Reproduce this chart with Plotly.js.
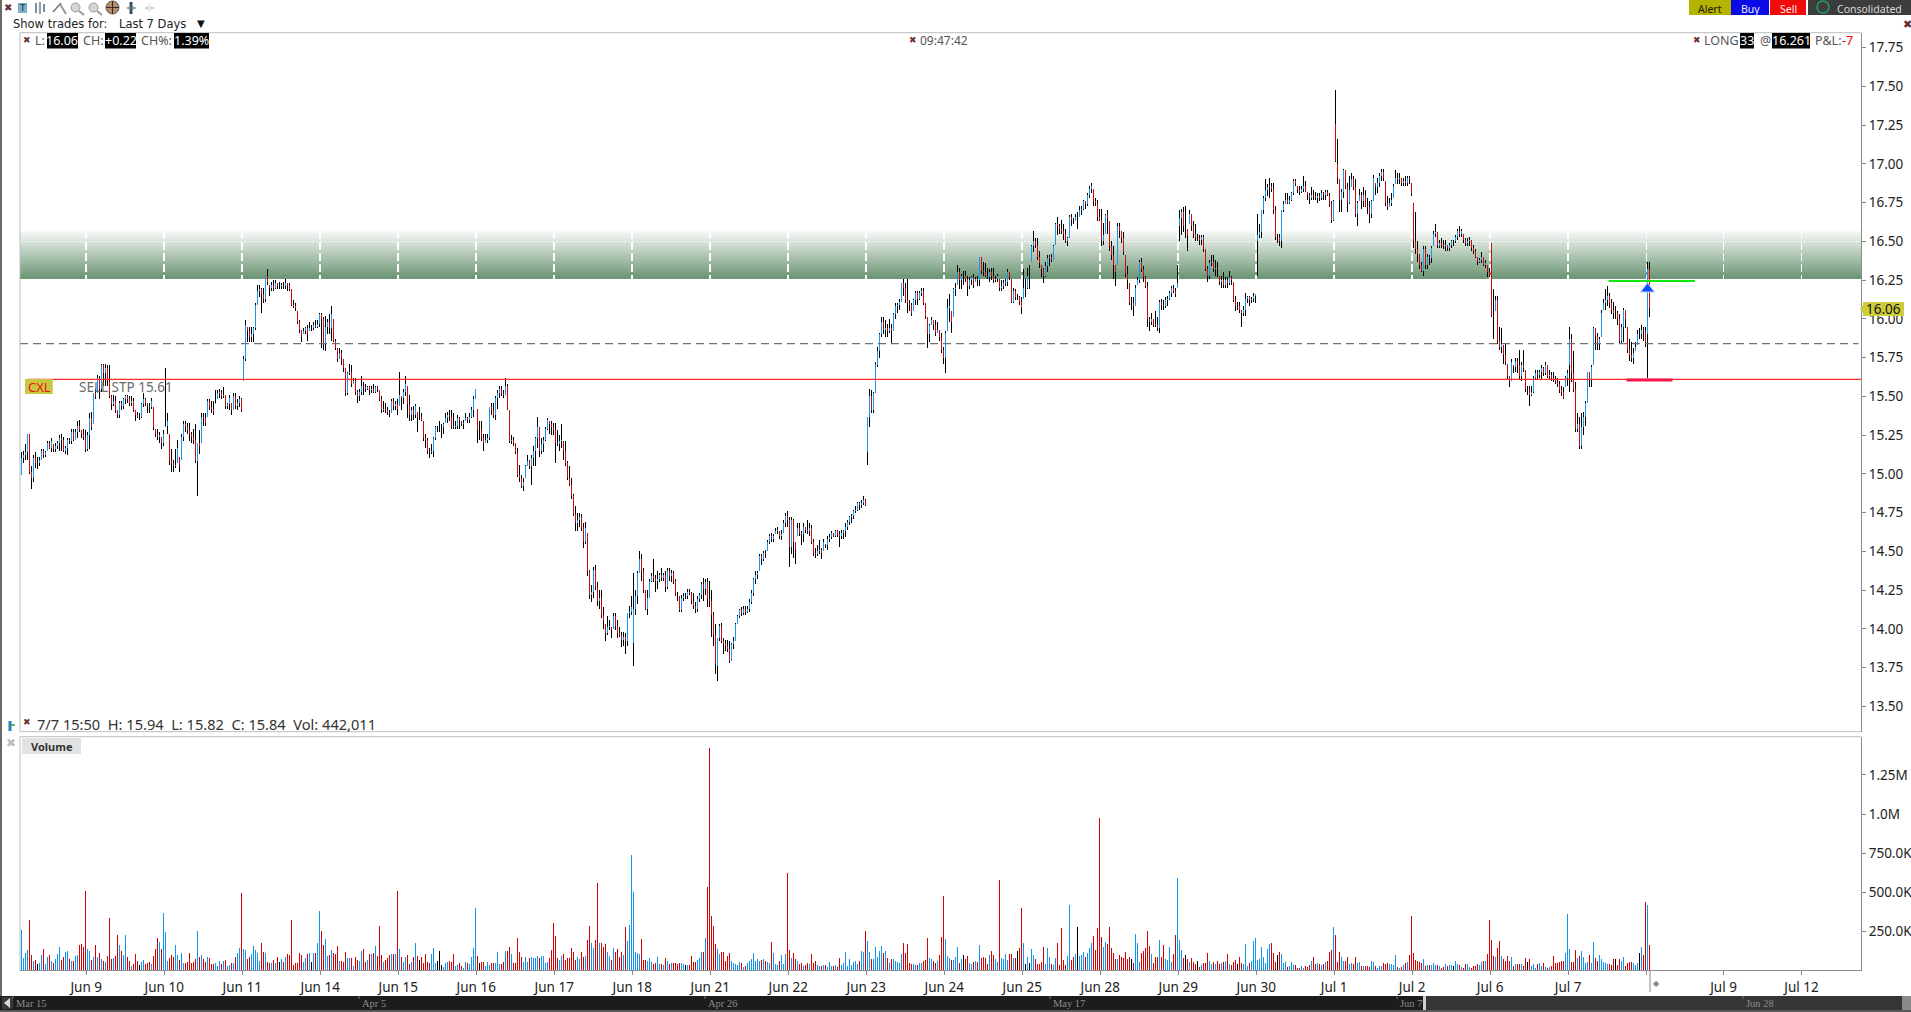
<!DOCTYPE html>
<html><head><meta charset="utf-8"><title>CHART</title>
<script src="https://cdn.plot.ly/plotly-3.0.1.min.js"></script>
<style>html,body{margin:0;padding:0;background:#fff;overflow:hidden}
.scatterlayer .js-line{shape-rendering:crispEdges}.barlayer path{shape-rendering:crispEdges}</style></head>
<body><div id="chart" style="width:1911px;height:1012px"></div>
<script>
// prices in cents, volumes in thousands; rows follow the 39 ten-minute bars of each session
const highs=[1514,1515,1519,1526,1526,1505,1512,1514,1511,1511,1516,1516,1515,1521,1521,1523,1519,1520,1521,1525,1526,1524,1518,1523,1523,1529,1529,1529,1534,1535,1528,1529,1528,
1527,1539,1540,1552,1555,1564,1563,1571,1571,1571,1570,1570,1551,1551,1550,1541,1547,1547,1549,1551,1551,1550,1550,1549,1541,1540,1539,1546,1552,1549,1546,1546,1549,1543,1529,1529,1527,1524,1528,
1568,1539,1526,1516,1509,1516,1522,1511,1526,1534,1534,1533,1533,1527,1529,1532,1520,1528,1539,1539,1539,1548,1548,1547,1547,1554,1554,1555,1554,1556,1551,1546,1551,1546,1552,1552,1548,1550,1549,
1576,1599,1595,1595,1595,1595,1610,1622,1622,1620,1620,1628,1632,1622,1624,1625,1625,1623,1624,1623,1624,1626,1623,1623,1619,1612,1610,1605,1599,1593,1594,1595,1596,1598,1596,1598,1599,1599,1604,
1604,1601,1602,1600,1603,1608,1600,1587,1581,1581,1580,1574,1568,1566,1571,1570,1562,1562,1554,1555,1563,1559,1558,1557,1557,1557,1558,1557,1557,1554,1550,1547,1546,1543,1541,1548,1549,1547,1548,
1566,1550,1555,1563,1557,1551,1543,1544,1545,1540,1543,1539,1534,1526,1523,1517,1519,1524,1531,1531,1534,1532,1533,1539,1540,1541,1541,1539,1534,1538,1537,1534,1535,1539,1537,1539,1543,1550,1555,
1542,1534,1534,1526,1526,1526,1543,1546,1546,1550,1554,1557,1557,1554,1562,1558,1541,1525,1524,1520,1517,1506,1499,1497,1506,1512,1509,1512,1518,1524,1537,1530,1523,1524,1530,1536,1534,1534,1533,
1533,1528,1525,1532,1521,1521,1508,1505,1497,1487,1479,1475,1475,1474,1468,1469,1462,1438,1428,1440,1441,1430,1425,1425,1414,1403,1408,1406,1401,1410,1410,1406,1401,1398,1398,1397,1410,1415,1421,
1436,1425,1437,1450,1448,1439,1425,1425,1432,1436,1445,1435,1437,1436,1439,1436,1437,1439,1439,1438,1437,1432,1424,1421,1422,1423,1423,1426,1426,1424,1423,1417,1421,1423,1430,1433,1432,1433,1431,
1425,1411,1403,1394,1403,1404,1394,1393,1393,1392,1391,1395,1404,1409,1413,1414,1415,1415,1415,1419,1425,1433,1437,1437,1448,1448,1450,1451,1457,1461,1462,1461,1465,1466,1463,1464,1470,1475,1476,
1472,1472,1471,1456,1468,1468,1463,1468,1466,1470,1468,1467,1458,1452,1454,1457,1452,1458,1455,1460,1461,1463,1462,1464,1464,1463,1464,1464,1468,1470,1473,1474,1477,1479,1482,1482,1483,1486,1484,
1537,1555,1554,1553,1572,1582,1591,1601,1601,1599,1597,1600,1597,1604,1610,1610,1613,1623,1626,1623,1626,1612,1610,1613,1618,1618,1618,1620,1620,1610,1601,1597,1601,1599,1599,1598,1593,1591,1582,
1592,1613,1616,1605,1620,1623,1635,1633,1629,1631,1631,1628,1627,1628,1629,1627,1628,1640,1640,1637,1636,1633,1632,1633,1633,1628,1629,1626,1625,1625,1626,1632,1630,1626,1620,1619,1616,1615,1614,
1632,1626,1633,1635,1648,1657,1652,1652,1644,1635,1633,1637,1641,1641,1642,1648,1662,1666,1661,1664,1661,1658,1653,1667,1668,1665,1668,1669,1673,1673,1677,1676,1681,1686,1688,1684,1678,1677,1671,
1671,1662,1668,1670,1663,1650,1647,1635,1662,1662,1657,1656,1641,1634,1623,1614,1614,1622,1627,1638,1639,1634,1628,1624,1601,1604,1600,1605,1601,1612,1613,1612,1614,1615,1618,1621,1622,1620,1635,
1670,1671,1672,1673,1658,1670,1668,1663,1661,1655,1654,1654,1654,1645,1634,1638,1641,1641,1638,1637,1628,1628,1630,1627,1627,1631,1628,1624,1615,1611,1611,1606,1608,1617,1615,1615,1614,1617,1615,
1668,1661,1670,1679,1690,1687,1691,1688,1688,1673,1655,1655,1670,1676,1681,1681,1679,1682,1690,1690,1686,1686,1686,1692,1689,1682,1681,1685,1683,1682,1681,1681,1683,1682,1683,1683,1681,1676,1677,
1748,1716,1690,1684,1697,1696,1688,1692,1694,1692,1690,1676,1684,1682,1685,1683,1678,1676,1677,1693,1688,1691,1694,1697,1697,1689,1679,1678,1681,1687,1696,1694,1694,1691,1691,1692,1692,1692,1688,
1675,1669,1650,1642,1637,1647,1647,1642,1641,1647,1657,1661,1656,1651,1652,1651,1651,1648,1649,1651,1651,1654,1658,1660,1658,1655,1652,1652,1653,1651,1648,1645,1640,1639,1643,1640,1638,1635,1633,
1649,1619,1615,1615,1595,1594,1583,1584,1571,1563,1574,1570,1575,1575,1580,1572,1580,1567,1557,1557,1557,1563,1567,1567,1567,1570,1569,1572,1570,1567,1566,1566,1563,1562,1560,1557,1556,1563,1567,
1595,1590,1579,1559,1539,1537,1539,1540,1547,1566,1566,1570,1595,1594,1591,1588,1606,1613,1619,1621,1617,1613,1611,1608,1605,1603,1597,1607,1606,1595,1587,1585,1581,1585,1593,1594,1596,1595,1595,
1637,1637];
const lows=[1499,1507,1509,1509,1500,1490,1495,1504,1503,1505,1509,1510,1511,1515,1516,1514,1514,1514,1516,1515,1515,1514,1513,1512,1519,1519,1521,1522,1523,1527,1523,1522,1514,
1515,1516,1528,1532,1548,1552,1548,1553,1557,1557,1557,1549,1541,1544,1539,1536,1536,1541,1542,1545,1546,1544,1544,1540,1534,1536,1535,1536,1543,1544,1539,1539,1542,1528,1524,1522,1520,1516,1518,
1530,1526,1506,1501,1501,1504,1507,1501,1509,1521,1527,1526,1521,1520,1519,1507,1486,1513,1520,1531,1531,1537,1541,1539,1538,1545,1548,1549,1548,1549,1542,1542,1541,1538,1541,1542,1541,1543,1540,
1560,1573,1585,1585,1585,1585,1593,1609,1614,1604,1610,1611,1622,1615,1618,1618,1619,1619,1619,1619,1619,1619,1618,1618,1608,1607,1605,1597,1591,1585,1590,1590,1586,1592,1592,1593,1594,1594,1595,
1581,1580,1579,1590,1590,1586,1585,1580,1572,1574,1570,1566,1550,1551,1564,1556,1558,1551,1546,1547,1551,1551,1553,1554,1551,1552,1552,1552,1553,1547,1539,1540,1539,1538,1537,1539,1541,1541,1538,
1544,1541,1545,1550,1536,1534,1534,1535,1536,1527,1535,1534,1521,1517,1513,1510,1513,1511,1522,1527,1527,1523,1526,1533,1533,1534,1529,1529,1529,1529,1529,1531,1529,1534,1533,1533,1536,1537,1548,
1520,1522,1521,1515,1520,1520,1522,1538,1536,1535,1542,1549,1550,1549,1551,1541,1520,1519,1518,1513,1498,1495,1491,1489,1497,1505,1503,1493,1505,1505,1517,1511,1513,1514,1521,1528,1526,1525,1525,
1507,1518,1515,1517,1509,1505,1496,1492,1484,1473,1463,1463,1466,1463,1452,1455,1434,1419,1417,1420,1425,1415,1413,1407,1400,1392,1396,1399,1394,1400,1399,1394,1395,1388,1389,1384,1389,1407,1409,
1376,1409,1416,1436,1431,1423,1412,1409,1420,1430,1430,1424,1426,1430,1431,1431,1424,1426,1431,1430,1429,1421,1418,1411,1411,1418,1419,1419,1422,1416,1413,1410,1411,1417,1419,1418,1422,1414,1414,
1395,1389,1371,1366,1392,1391,1384,1386,1385,1378,1379,1387,1392,1403,1407,1408,1409,1409,1410,1411,1416,1421,1429,1432,1437,1441,1444,1446,1450,1455,1456,1456,1461,1461,1458,1457,1462,1466,1466,
1440,1448,1446,1442,1460,1460,1454,1456,1462,1461,1460,1455,1447,1446,1447,1448,1445,1450,1452,1451,1456,1458,1459,1459,1459,1453,1458,1458,1459,1464,1467,1468,1471,1475,1476,1477,1478,1480,1479,
1506,1530,1539,1539,1552,1569,1575,1588,1590,1588,1588,1591,1584,1592,1600,1604,1606,1611,1615,1610,1604,1605,1602,1605,1609,1609,1612,1615,1609,1600,1581,1585,1596,1593,1589,1591,1586,1578,1571,
1565,1592,1598,1591,1601,1615,1622,1619,1619,1622,1624,1615,1619,1622,1620,1624,1621,1621,1629,1628,1627,1626,1624,1625,1623,1624,1624,1618,1618,1619,1621,1621,1625,1610,1610,1612,1612,1609,1603,
1613,1614,1619,1619,1637,1643,1646,1638,1633,1627,1623,1627,1630,1634,1637,1638,1648,1654,1655,1655,1651,1649,1647,1652,1660,1661,1663,1658,1666,1667,1670,1671,1673,1678,1681,1673,1673,1663,1663,
1647,1648,1655,1655,1644,1638,1626,1621,1635,1652,1649,1641,1627,1619,1609,1606,1602,1608,1622,1623,1630,1624,1620,1595,1592,1596,1595,1595,1592,1591,1606,1606,1607,1608,1612,1614,1617,1614,1620,
1650,1654,1656,1652,1644,1661,1657,1652,1650,1650,1648,1648,1643,1631,1624,1626,1634,1630,1628,1627,1622,1620,1620,1620,1620,1622,1622,1611,1605,1606,1604,1595,1602,1602,1610,1608,1610,1611,1610,
1628,1652,1652,1668,1676,1679,1678,1682,1668,1651,1649,1647,1646,1669,1674,1674,1674,1676,1680,1686,1681,1680,1681,1682,1682,1677,1674,1677,1677,1677,1675,1676,1677,1677,1677,1679,1672,1662,1663,
1701,1687,1669,1669,1678,1684,1669,1674,1685,1683,1666,1660,1676,1671,1672,1672,1668,1662,1665,1676,1680,1681,1685,1689,1689,1673,1670,1672,1673,1678,1687,1687,1687,1686,1686,1686,1686,1687,1679,
1646,1642,1637,1632,1630,1628,1632,1632,1635,1636,1647,1653,1646,1646,1646,1645,1644,1644,1644,1646,1647,1649,1651,1653,1653,1649,1647,1647,1647,1644,1642,1639,1635,1636,1636,1634,1633,1627,1627,
1601,1587,1605,1584,1580,1578,1571,1570,1561,1556,1560,1565,1566,1565,1561,1560,1566,1553,1551,1544,1550,1552,1561,1561,1562,1561,1563,1564,1562,1561,1560,1559,1558,1556,1552,1550,1548,1556,1557,
1553,1559,1553,1527,1527,1516,1516,1525,1531,1546,1556,1556,1570,1580,1580,1580,1588,1606,1606,1608,1607,1603,1600,1600,1596,1584,1584,1585,1594,1578,1573,1572,1571,1579,1583,1587,1587,1586,1582,
1562,1601];
const closes=[1510,1512,1514,1526,1501,1497,1510,1507,1507,1509,1515,1512,1514,1520,1517,1521,1516,1518,1520,1523,1522,1515,1517,1522,1521,1527,1522,1527,1531,1528,1526,1524,1516,
1525,1536,1530,1552,1550,1562,1555,1570,1565,1568,1560,1550,1545,1547,1541,1538,1546,1544,1548,1550,1548,1546,1547,1541,1538,1537,1537,1545,1548,1546,1544,1543,1547,1530,1526,1524,1525,1520,1526,
1531,1534,1508,1507,1505,1506,1517,1505,1524,1532,1530,1528,1526,1524,1522,1508,1520,1518,1537,1536,1533,1547,1543,1542,1540,1546,1552,1553,1550,1551,1544,1545,1549,1541,1550,1544,1546,1548,1541,
1574,1596,1592,1588,1590,1594,1609,1618,1619,1616,1613,1628,1624,1620,1622,1620,1623,1621,1621,1622,1621,1623,1622,1619,1609,1608,1607,1598,1593,1588,1592,1594,1590,1594,1594,1596,1595,1597,1603,
1600,1584,1595,1598,1594,1603,1586,1581,1574,1578,1575,1568,1552,1565,1566,1558,1560,1553,1550,1553,1557,1556,1555,1556,1554,1555,1553,1556,1555,1548,1541,1542,1541,1540,1539,1547,1544,1545,1542,
1551,1549,1553,1558,1545,1538,1541,1538,1544,1537,1537,1535,1523,1522,1515,1514,1515,1523,1530,1530,1530,1530,1532,1536,1538,1537,1531,1530,1531,1536,1535,1532,1533,1536,1535,1537,1541,1548,1555,
1528,1528,1524,1520,1522,1523,1543,1541,1538,1549,1552,1555,1552,1551,1557,1542,1521,1522,1520,1514,1499,1497,1492,1495,1505,1508,1505,1510,1515,1523,1530,1515,1519,1522,1529,1535,1532,1530,1528,
1520,1519,1521,1522,1515,1507,1497,1493,1486,1474,1468,1470,1472,1466,1456,1465,1437,1422,1424,1438,1427,1418,1420,1409,1405,1397,1401,1402,1399,1408,1402,1397,1396,1393,1395,1392,1410,1411,1414,
1413,1421,1436,1445,1437,1425,1413,1420,1431,1434,1433,1431,1432,1435,1433,1435,1427,1437,1434,1436,1431,1422,1421,1412,1420,1421,1421,1424,1423,1418,1415,1413,1419,1422,1429,1426,1430,1419,1418,
1409,1396,1377,1394,1402,1392,1390,1389,1387,1379,1390,1392,1403,1408,1412,1410,1413,1411,1413,1417,1423,1432,1435,1436,1447,1445,1449,1448,1456,1460,1458,1460,1463,1464,1460,1461,1468,1473,1470,
1453,1470,1456,1451,1465,1462,1461,1466,1464,1463,1465,1456,1449,1448,1450,1451,1449,1456,1454,1458,1459,1462,1460,1463,1461,1460,1462,1463,1466,1469,1472,1473,1476,1477,1481,1480,1481,1483,1480,
1537,1550,1541,1552,1570,1579,1590,1598,1593,1594,1592,1594,1592,1603,1608,1609,1611,1623,1620,1612,1610,1609,1604,1612,1617,1613,1617,1618,1610,1602,1590,1596,1599,1596,1591,1593,1588,1580,1575,
1591,1607,1608,1598,1619,1620,1630,1625,1628,1628,1626,1621,1625,1627,1622,1626,1625,1640,1631,1630,1628,1627,1630,1628,1625,1626,1628,1620,1621,1623,1624,1630,1627,1611,1618,1614,1614,1611,1607,
1620,1620,1628,1628,1647,1650,1648,1640,1636,1632,1628,1634,1639,1640,1638,1647,1661,1660,1658,1657,1655,1650,1652,1666,1664,1663,1666,1666,1670,1671,1676,1674,1680,1684,1686,1676,1675,1666,1664,
1650,1654,1667,1665,1647,1641,1635,1630,1660,1657,1652,1643,1629,1625,1610,1610,1608,1620,1625,1637,1632,1627,1621,1600,1598,1600,1597,1596,1594,1611,1609,1608,1612,1613,1617,1620,1618,1616,1623,
1665,1669,1660,1660,1654,1668,1660,1655,1652,1652,1651,1653,1645,1632,1628,1636,1637,1632,1633,1632,1624,1625,1622,1625,1623,1627,1625,1612,1608,1608,1606,1604,1606,1613,1614,1612,1613,1615,1616,
1654,1656,1670,1678,1683,1685,1686,1684,1670,1653,1653,1650,1670,1674,1677,1675,1677,1681,1689,1687,1683,1682,1684,1686,1682,1680,1678,1680,1679,1678,1679,1678,1681,1680,1682,1680,1674,1664,1676,
1702,1691,1677,1682,1696,1686,1675,1683,1690,1685,1668,1675,1680,1676,1680,1673,1672,1668,1676,1691,1685,1688,1692,1695,1691,1675,1672,1675,1677,1686,1691,1690,1691,1688,1689,1688,1691,1690,1681,
1650,1645,1642,1635,1631,1645,1635,1640,1639,1646,1655,1656,1647,1649,1648,1647,1648,1646,1648,1650,1650,1653,1657,1655,1657,1651,1649,1650,1651,1646,1644,1640,1637,1638,1640,1635,1636,1630,1628,
1602,1601,1612,1586,1582,1584,1577,1572,1563,1560,1572,1569,1573,1570,1563,1570,1568,1555,1555,1551,1553,1562,1565,1564,1566,1568,1565,1570,1563,1564,1562,1561,1559,1558,1554,1553,1549,1562,1565,
1587,1565,1555,1529,1532,1518,1530,1537,1546,1566,1561,1569,1594,1589,1584,1587,1604,1610,1612,1615,1610,1606,1604,1604,1600,1586,1595,1606,1600,1580,1577,1575,1578,1582,1590,1590,1593,1592,1585,
1632,1607];
const gapOpens={306:1391,348:1376,423:1514,579:1660,618:1650,657:1726,658:1700,735:1649,774:1570,813:1590,814:1632};
const volumes=[258,77,109,130,322,98,60,66,38,49,98,137,40,88,98,60,45,70,105,150,66,83,120,126,70,62,62,92,98,162,169,152,508,
137,126,66,83,162,88,113,70,62,56,92,335,70,81,92,226,162,126,98,226,88,62,30,40,105,62,34,56,66,40,45,51,40,92,137,207,182,137,368,
246,60,77,98,83,162,98,66,113,45,45,56,113,49,56,70,252,83,98,70,56,88,77,40,40,45,28,60,40,60,66,28,34,45,45,88,109,143,496,
135,130,70,83,105,156,130,109,60,175,120,109,56,45,49,66,45,83,56,70,53,83,105,100,322,34,45,49,109,98,56,77,103,109,56,109,113,173,380,
252,162,200,92,98,130,109,105,156,60,60,56,115,81,81,81,30,88,66,62,124,137,56,66,105,105,109,156,92,284,98,56,66,77,98,105,107,105,508,
137,83,56,83,98,38,56,88,175,94,66,85,45,105,56,45,105,143,45,60,124,34,24,45,56,60,56,105,30,34,45,30,17,51,45,40,83,143,400,
92,45,51,51,28,56,34,45,45,45,120,38,40,56,124,124,147,105,45,49,207,115,88,56,83,56,77,83,81,77,92,77,92,92,45,53,77,130,303,
220,77,66,92,105,66,77,81,145,120,66,83,70,118,88,92,194,284,175,145,194,560,175,175,147,167,115,92,66,143,115,137,88,118,96,278,188,290,740,
502,120,109,105,200,66,66,60,81,51,38,45,83,40,40,34,81,62,38,45,45,45,40,45,45,40,34,34,34,92,53,56,66,81,115,120,207,530,1423,
348,285,167,135,105,120,120,60,90,109,60,49,38,32,56,45,24,28,49,60,70,109,60,70,60,65,70,60,55,45,182,109,40,32,60,96,40,105,624,
130,79,111,73,58,41,47,30,36,47,41,105,47,60,36,26,26,34,34,21,53,28,28,34,21,79,34,47,118,28,73,34,53,60,41,60,124,118,252,
190,118,73,73,150,85,124,156,111,124,79,47,73,73,60,53,47,105,175,111,169,47,41,41,34,34,47,47,60,66,207,79,73,60,47,60,98,214,476,
200,92,77,66,66,85,150,47,73,98,73,92,47,41,53,60,53,162,79,85,79,41,98,124,98,73,53,579,79,73,105,66,105,105,79,79,124,143,400,
175,41,85,47,137,98,75,41,41,53,150,41,143,85,41,32,79,175,32,271,66,34,92,419,66,85,105,278,92,98,118,85,111,143,175,220,130,271,976,
213,150,181,171,278,143,111,73,73,98,85,79,118,73,85,73,47,233,175,53,111,124,143,252,156,105,47,85,85,194,88,162,70,66,150,56,103,226,592,
194,130,81,98,70,56,81,56,40,60,24,34,45,45,113,60,38,56,40,60,40,45,56,62,105,38,34,56,66,40,82,45,38,169,30,45,60,190,207,
66,73,150,85,45,137,169,175,109,56,98,120,105,45,56,24,30,56,32,32,15,13,30,13,30,24,32,60,85,38,45,38,34,38,51,60,115,130,279,
226,56,120,85,60,60,85,40,45,40,85,49,56,26,30,30,26,24,60,56,28,13,26,28,45,40,45,40,40,32,98,24,17,24,32,45,51,98,348,
109,66,60,51,45,70,30,34,34,34,45,32,32,30,17,20,38,26,32,32,30,58,38,32,20,13,38,38,24,17,30,30,40,34,51,60,60,105,322,
194,90,85,143,188,90,73,60,92,60,85,30,40,38,40,40,30,81,51,73,30,40,17,38,47,30,45,20,17,20,30,92,45,45,56,60,60,111,361,
137,51,56,130,78,92,124,88,45,56,98,45,182,78,60,96,73,56,45,38,38,32,73,70,32,70,60,82,30,45,56,56,45,34,45,109,150,100,440,417,165];
const dateLabels=['Jun 9','Jun 10','Jun 11','Jun 14','Jun 15','Jun 16','Jun 17','Jun 18','Jun 21','Jun 22','Jun 23','Jun 24','Jun 25','Jun 28','Jun 29','Jun 30','Jul 1','Jul 2','Jul 6','Jul 7','','Jul 9','Jul 12'];
const dateTickBars=[32.35,71.35,110.35,149.35,188.35,227.35,266.35,305.35,344.35,383.35,422.35,461.35,500.35,539.35,578.35,617.35,656.35,695.35,734.35,773.35,812.5,851,890];
const priceTicks=[13.5,13.75,14,14.25,14.5,14.75,15,15.25,15.5,15.75,16,16.25,16.5,16.75,17,17.25,17.5,17.75];
const priceTickText=['13.50','13.75','14.00','14.25','14.50','14.75','15.00','15.25','15.50','15.75','16.00','16.25','16.50','16.75','17.00','17.25','17.50','17.75'];
const volumeTicks=[250,500,750,1000,1250];
const volumeTickText=['250.0K','500.0K','750.0K','1.0M','1.25M'];
const overviewLabels=['Mar 15','Apr 5','Apr 26','May 17','Jun 7','Jun 28'];
const overviewLabelX=[15,361,707,1052,1399,1745];
const stopLevel=15.61, avgLevel=15.84, targetLevel=16.245, entryBar=813, entryMark=16.193;
const bandBottom=16.26, bandTop=16.574;

if(highs.length!==815||lows.length!==815||closes.length!==815||volumes.length!==815)
  throw new Error('lengths '+[highs.length,lows.length,closes.length,volumes.length]);

const n=highs.length, opens=[];
for(let i=0;i<n;i++){
  let o=gapOpens[i]!==undefined?gapOpens[i]:(i?closes[i-1]:lows[i]);
  opens.push(Math.min(highs[i],Math.max(lows[i],o)));
}
const wx=[],wy=[],ux=[],uy=[],dx=[],dy=[],volColors=[],idx=[];
const BLUE='#1e96f0',RED='#cc0a0a';
for(let i=0;i<n;i++){
  idx.push(i);
  wx.push(i,i,null);wy.push(lows[i]/100,highs[i]/100,null);
  if(closes[i]>opens[i]){ux.push(i,i,null);uy.push(opens[i]/100,closes[i]/100,null);volColors.push('#0f96f5');}
  else if(closes[i]<opens[i]){dx.push(i,i,null);dy.push(opens[i]/100,closes[i]/100,null);volColors.push('#d80000');}
  else volColors.push('#000');
}
const X0=-0.75,X1=919.75,W=1911,H=1012;
const fx=v=>v/W, fy=v=>1-v/H;
const FONT='"DejaVu Sans",sans-serif', NOTO='"Noto Sans",sans-serif';
const shapes=[],ann=[];
function rect(x0,y0,x1,y1,c,line){shapes.push({type:'rect',xref:'paper',yref:'paper',x0:fx(x0),x1:fx(x1),y0:fy(y1),y1:fy(y0),fillcolor:c,line:line||{width:0},layer:'above'});}
function seg(x0,y0,x1,y1,c,w){shapes.push({type:'line',xref:'paper',yref:'paper',x0:fx(x0),x1:fx(x1),y0:fy(y0),y1:fy(y1),line:{color:c,width:w||1},layer:'above'});}
function txt(x,y,t,o){o=o||{};ann.push(Object.assign({xref:'paper',yref:'paper',x:fx(x),y:fy(y),text:t,showarrow:false,xanchor:o.anchor||'left',yanchor:'middle',
  font:{family:o.family||NOTO,size:o.size||12.5,color:o.color||'#444',weight:o.weight||'normal'},bgcolor:o.bg,borderpad:o.pad||0},o.w?{width:o.w,height:o.h,align:'center'}:{}));}
// gradient band below the grid: painted from the lightest full-height layer down, so edges never show white
const steps=48;
for(let s=steps-1;s>=0;s--){
  const t=s/steps, b=bandBottom+(bandTop-bandBottom)*(s+1)/steps;
  const mix=(c)=>Math.round(c+(253-c)*t);
  shapes.push({type:'rect',xref:'x',yref:'y',x0:X0,x1:X1,y0:bandBottom,y1:b,fillcolor:`rgb(${mix(108)},${mix(150)},${mix(116)})`,line:{width:0},layer:'below'});
}
// level lines
shapes.push({type:'line',xref:'x',yref:'y',x0:X0,x1:918.5,y0:avgLevel,y1:avgLevel,line:{color:'#707070',width:1.2,dash:'8px 5px'},layer:'above'});
shapes.push({type:'line',xref:'x',yref:'y',x0:3.25,x1:X1,y0:stopLevel,y1:stopLevel,line:{color:'#ff2a2a',width:1.3},layer:'above'});
shapes.push({type:'line',xref:'x',yref:'y',x0:793.5,x1:836.75,y0:targetLevel,y1:targetLevel,line:{color:'#10e810',width:2},layer:'above'});
shapes.push({type:'line',xref:'x',yref:'y',x0:802.5,x1:825.5,y0:stopLevel-0.005,y1:stopLevel-0.005,line:{color:'#f81850',width:3},layer:'above'});
// frame details
rect(0,0,2,H,'#6a6a6a');
seg(20,32.7,20,731.7,'#bdbdbd',1);seg(20,736.7,20,970.3,'#bdbdbd',1);
// toolbar
txt(8,7.5,'✖',{family:FONT,color:'#6b2e2e',size:10,anchor:'center'});
rect(18,3,27,13,'#7fb0c8');txt(22.5,8,'T',{family:FONT,color:'#12384c',size:9,anchor:'center'});
seg(36,3,36,13,'#7a90a0',2);seg(40,2,40,14,'#8aa0b0',2);seg(44,4,44,12,'#7a90a0',2);
seg(53,12,61,3,'#777',1.5);seg(60,4,66,14,'#999',2);
[76,94].forEach(x=>{shapes.push({type:'circle',xref:'paper',yref:'paper',x0:fx(x-5),x1:fx(x+4),y0:fy(12),y1:fy(3),fillcolor:'#cfd6da',line:{color:'#999',width:1},layer:'above'});seg(x+3,11,x+8,15,'#999',2);});
shapes.push({type:'circle',xref:'paper',yref:'paper',x0:fx(106),x1:fx(119),y0:fy(14),y1:fy(1),fillcolor:'#b08c70',line:{color:'#7a5c48',width:1},layer:'above'});
seg(112.5,1,112.5,14,'#3a2820',1);seg(106,7.5,119,7.5,'#3a2820',1);
seg(131,2,131,14,'#35506a',3);txt(131,8,'◂ ▸',{family:FONT,color:'#8aa090',size:8,anchor:'center'});
txt(149,8,'◂|▸',{family:FONT,color:'#d0d0d0',size:8,anchor:'center'});
txt(12,24,'Show trades for:',{family:FONT,color:'#222',size:11.5});
txt(118,24,'Last 7 Days',{family:FONT,color:'#222',size:11.5});
txt(201,23.5,'▼',{family:FONT,color:'#111',size:10,anchor:'center'});
seg(20,32.7,1861,32.7,'#bdbdbd',1);
// top-left readout
txt(27,40,'✖',{family:FONT,color:'#6b2e2e',size:9,anchor:'center'});
txt(34,41,'L:',{color:'#555'});
rect(47,33,78,48.5,'#000');txt(62.5,41,'16.06',{color:'#fff',anchor:'center'});
txt(82,41,'CH:',{color:'#555'});
rect(105,33,136,48.5,'#000');txt(120.5,41,'+0.22',{color:'#fff',anchor:'center'});
txt(140,41,'CH%:',{color:'#555'});
rect(174,33,209,48.5,'#000');txt(191.5,41,'1.39%',{color:'#fff',anchor:'center'});
// clock
txt(913,40,'✖',{family:FONT,color:'#6b2e2e',size:9,anchor:'center'});
txt(919,41,'09:47:42',{size:12,color:'#555'});
// position readout
txt(1697,40,'✖',{family:FONT,color:'#6b2e2e',size:9,anchor:'center'});
txt(1703,41,'LONG',{color:'#555'});
rect(1740,33,1754,48.5,'#000');txt(1747,41,'33',{color:'#fff',anchor:'center'});
txt(1759,41,'@',{color:'#555'});
rect(1772,33,1810,48.5,'#000');txt(1791,41,'16.261',{color:'#fff',anchor:'center'});
txt(1814,41,'P&L:',{color:'#555'});
txt(1841,41,'-7',{color:'#f00000'});
// order buttons
rect(1689,0,1731,15,'#b4b400');txt(1710,8.5,'Alert',{size:10.5,color:'#1a1a00',anchor:'center'});
rect(1731,0,1769,15,'#0a0ae6');txt(1750,8.5,'Buy',{size:10.5,color:'#e8e8ff',anchor:'center'});
rect(1770,0,1806,15,'#f00a0a');txt(1788,8.5,'Sell',{size:10.5,color:'#ffe8e8',anchor:'center'});
rect(1808,0,W,15,'#3c3c3c');txt(1869,8.5,'Consolidated',{size:10.5,color:'#d8d8d8',anchor:'center'});
shapes.push({type:'circle',xref:'paper',yref:'paper',x0:fx(1817),x1:fx(1829),y0:fy(13),y1:fy(1),line:{color:'#22a060',width:1.5},layer:'above'});
txt(1907,25,'✖',{family:FONT,color:'#6b2e2e',size:11,anchor:'center'});
// price tag
rect(1863,302,1904,316,'#cdcd3c');
shapes.push({type:'path',xref:'paper',yref:'paper',path:`M ${fx(1863)} ${fy(305)} L ${fx(1860)} ${fy(309)} L ${fx(1863)} ${fy(313)} Z`,fillcolor:'#cdcd3c',line:{width:0},layer:'above'});
txt(1883.5,309,'16.06',{size:13.5,color:'#111',anchor:'center'});
// order label
rect(25,379,52.7,394,'#c8c840');
txt(39,386.5,'CXL',{size:13,color:'#f01010',anchor:'center'});
txt(78,386.5,'SELL STP 15.61',{size:13.5,color:'#6a6a6a'});
// OHLC strip
seg(10,721,10,731,'#2a80c0',3);seg(11,725,15,725,'#30a030',1.5);
txt(27,722,'✖',{family:FONT,color:'#6b2e2e',size:9,anchor:'center'});
txt(36,723.5,'7/7 15:50&nbsp;&nbsp;H: 15.94&nbsp;&nbsp;L: 15.82&nbsp;&nbsp;C: 15.84&nbsp;&nbsp;Vol: 442,011',{size:14.6,color:'#333'});
seg(20,731.7,1861,731.7,'#bdbdbd',1);seg(20,736.7,1861,736.7,'#bdbdbd',1);
// volume label
txt(11,743,'✖',{family:FONT,color:'#bcbcbc',size:12,anchor:'center'});
rect(22,738,81,754,'#e2e2e2');
txt(30,746,'Volume',{size:11,color:'#333',weight:'bold'});
// now marker
seg(1650,970,1650,992,'#888',1);
txt(1656,983,'◆',{family:FONT,size:8,color:'#888',anchor:'center'});
// overview strip
rect(0,996,W,1012,'#1c1c1c');rect(1425,996,1902,1010,'#363636');
rect(0,1010,W,1012,'#5a5a5a');
rect(2,997,13,1009,'#3a3a3a');
shapes.push({type:'path',xref:'paper',yref:'paper',path:`M ${fx(10)} ${fy(998)} L ${fx(4)} ${fy(1003)} L ${fx(10)} ${fy(1008)} Z`,fillcolor:'#d8d8d8',line:{width:0},layer:'above'});
rect(1423,996,1426,1010,'#cfcfcf');rect(1902,996,1911,1010,'#8a8a8a');
overviewLabels.forEach((t,i)=>{txt(overviewLabelX[i],1003.5,t,{family:'"Liberation Serif",serif',size:10.5,color:'#8c8c8c'});seg(overviewLabelX[i]-2,996,overviewLabelX[i]-2,999,'#777',1);});

const traces=[
 {type:'scatter',mode:'lines',x:wx,y:wy,xaxis:'x',yaxis:'y',line:{color:'#000',width:1},hoverinfo:'skip',connectgaps:false},
 {type:'scatter',mode:'lines',x:ux,y:uy,xaxis:'x',yaxis:'y',line:{color:BLUE,width:1},hoverinfo:'skip',connectgaps:false},
 {type:'scatter',mode:'lines',x:dx,y:dy,xaxis:'x',yaxis:'y',line:{color:RED,width:1},hoverinfo:'skip',connectgaps:false},
 {type:'scatter',mode:'markers',x:[entryBar],y:[entryMark],xaxis:'x',yaxis:'y',marker:{symbol:'triangle-up',size:12,color:'#0a50ff',line:{color:'#b8c8ff',width:1}},hoverinfo:'skip'},
 {type:'bar',x:idx,y:volumes,width:0.5,xaxis:'x2',yaxis:'y2',marker:{color:volColors,line:{width:0}},hoverinfo:'skip'}
];
const tickFont={family:NOTO,size:13.5,color:'#222'};
const layout={width:W,height:H,margin:{l:0,r:0,t:0,b:0,pad:0},paper_bgcolor:'#fff',plot_bgcolor:'#fff',showlegend:false,bargap:0,hovermode:false,
 xaxis:{domain:[fx(20),fx(1861)],range:[X0,X1],anchor:'y',tickmode:'array',tickvals:dateTickBars,ticktext:dateLabels,showticklabels:false,ticks:'',
  showgrid:true,gridcolor:'#ffffff',griddash:'8px 3px',gridwidth:1.5,zeroline:false,showline:false},
 yaxis:{domain:[fy(731.7),fy(32.7)],range:[13.336,17.847],anchor:'x',side:'right',tickmode:'array',tickvals:priceTicks,ticktext:priceTickText,tickfont:tickFont,
  ticks:'outside',ticklen:4,tickcolor:'#888',showline:true,linecolor:'#8c8c8c',linewidth:1,showgrid:true,gridcolor:'rgba(255,255,255,0.7)',griddash:'2px 2px',gridwidth:1,zeroline:false},
 xaxis2:{domain:[fx(20),fx(1861)],range:[X0,X1],anchor:'y2',tickmode:'array',tickvals:dateTickBars,ticktext:dateLabels,tickfont:tickFont,ticks:'outside',ticklen:4,tickcolor:'#888',
  showline:true,linecolor:'#8c8c8c',linewidth:1,showgrid:false,zeroline:false,tickangle:0},
 yaxis2:{domain:[fy(970.3),fy(736.7)],range:[0,1495],anchor:'x2',side:'right',tickmode:'array',tickvals:volumeTicks,ticktext:volumeTickText,tickfont:tickFont,
  ticks:'outside',ticklen:4,tickcolor:'#888',showline:true,linecolor:'#8c8c8c',linewidth:1,showgrid:false,zeroline:false},
 shapes:shapes,annotations:ann};
Plotly.newPlot('chart',traces,layout,{staticPlot:true,displayModeBar:false,responsive:false});
</script></body></html>
